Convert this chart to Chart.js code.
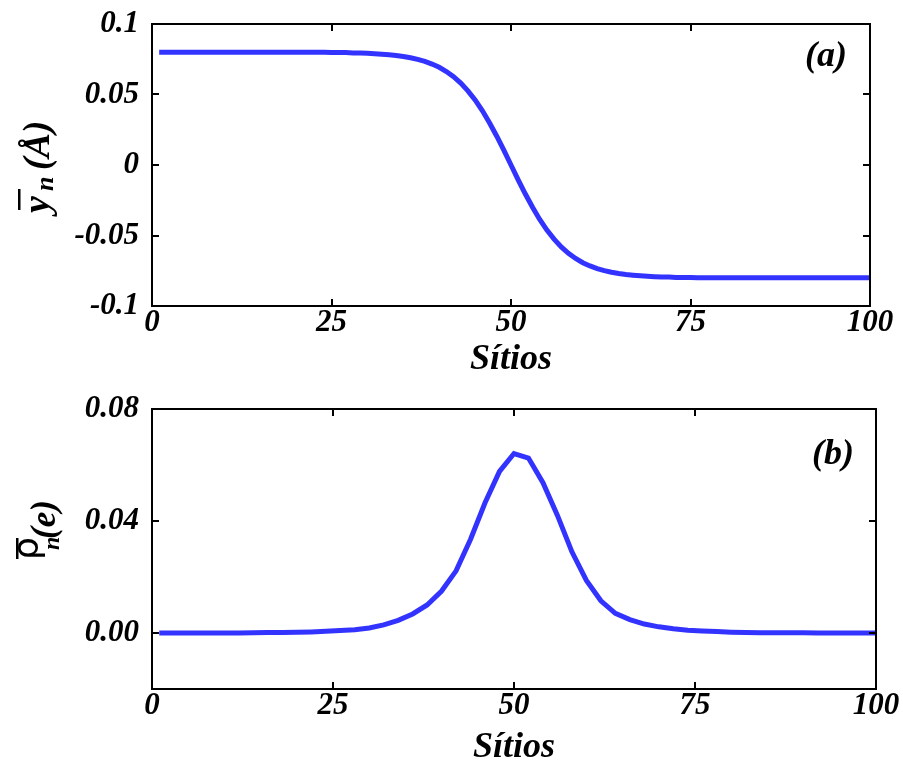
<!DOCTYPE html>
<html>
<head>
<meta charset="utf-8">
<script src="https://cdn.jsdelivr.net/npm/chart.js@4/dist/chart.umd.min.js"></script>
<style>
  html, body { margin: 0; padding: 0; background: #fff; overflow: hidden; width: 903px; height: 760px; }
  .panel { position: absolute; left: 0; width: 903px; }
  #wrapA { top: 0; height: 385px; }
  #wrapB { top: 385px; height: 380px; }
</style>
</head>
<body>
<div class="panel" id="wrapA"><canvas id="chartA"></canvas></div>
<div class="panel" id="wrapB"><canvas id="chartB"></canvas></div>
<script>
// Panel (a): mean displacement per site
const sitesA = [
  1, 2, 3, 4, 5, 6, 7, 8, 9, 10, 11, 12, 13, 14, 15, 16, 17, 18, 19, 20,
  21, 22, 23, 24, 25, 26, 27, 28, 29, 30, 31, 32, 33, 34, 35, 36, 37, 38, 39, 40,
  41, 42, 43, 44, 45, 46, 47, 48, 49, 50, 51, 52, 53, 54, 55, 56, 57, 58, 59, 60,
  61, 62, 63, 64, 65, 66, 67, 68, 69, 70, 71, 72, 73, 74, 75, 76, 77, 78, 79, 80,
  81, 82, 83, 84, 85, 86, 87, 88, 89, 90, 91, 92, 93, 94, 95, 96, 97, 98, 99, 100
];
const displacementA = [
  0.0800, 0.0800, 0.0800, 0.0800, 0.0800, 0.0800, 0.0800, 0.0800, 0.0800, 0.0800,
  0.0800, 0.0800, 0.0800, 0.0800, 0.0800, 0.0800, 0.0800, 0.0799, 0.0799, 0.0799,
  0.0799, 0.0799, 0.0799, 0.0799, 0.0798, 0.0798, 0.0797, 0.0795, 0.0794, 0.0792,
  0.0789, 0.0786, 0.0782, 0.0777, 0.0770, 0.0761, 0.0749, 0.0735, 0.0716, 0.0693,
  0.0663, 0.0626, 0.0581, 0.0526, 0.0462, 0.0386, 0.0300, 0.0206, 0.0105, 0.0000,
  -0.0105, -0.0206, -0.0300, -0.0386, -0.0462, -0.0526, -0.0581, -0.0626, -0.0663, -0.0693,
  -0.0716, -0.0735, -0.0749, -0.0761, -0.0770, -0.0777, -0.0782, -0.0786, -0.0789, -0.0792,
  -0.0794, -0.0795, -0.0797, -0.0798, -0.0798, -0.0799, -0.0799, -0.0799, -0.0799, -0.0799,
  -0.0799, -0.0799, -0.0800, -0.0800, -0.0800, -0.0800, -0.0800, -0.0800, -0.0800, -0.0800,
  -0.0800, -0.0800, -0.0800, -0.0800, -0.0800, -0.0800, -0.0800, -0.0800, -0.0800, -0.0800
];

// Panel (b): mean charge density per site
const sitesB = [
  1, 2, 4, 6, 8, 10, 12, 14, 16, 18, 20, 22, 24, 26, 28, 30, 32, 34, 36, 38, 40,
  42, 44, 46, 48, 50, 52, 54, 56, 58, 60, 62, 64, 66, 68, 70, 72, 74, 76, 78, 80,
  82, 84, 86, 88, 90, 92, 94, 96, 98, 100
];
const densityB = [
  0.0000, 0.0000, 0.0000, 0.0000, 0.0000, 0.0000, 0.0000, 0.0001, 0.0002, 0.0002, 0.0003,
  0.0004, 0.0006, 0.0009, 0.0012, 0.0018, 0.0029, 0.0045, 0.0068, 0.0100, 0.0150,
  0.0222, 0.0335, 0.0465, 0.0577, 0.0641, 0.0625, 0.0537, 0.0420, 0.0290, 0.0188,
  0.0115, 0.0070, 0.0048, 0.0032, 0.0022, 0.0015, 0.0010, 0.0007, 0.0005, 0.0003,
  0.0002, 0.0001, 0.0001, 0.0001, 0.0001, 0.0000, 0.0000, 0.0000, 0.0000, 0.0000
];

// Tick values and their printed labels
const xTickValues = [0, 25, 50, 75, 100];
const xTickLabels = ['0', '25', '50', '75', '100'];
const yTickValuesA = [-0.1, -0.05, 0, 0.05, 0.1];
const yTickLabelsA = ['-0.1', '-0.05', '0', '0.05', '0.1'];
const yTickValuesB = [0, 0.04, 0.08];
const yTickLabelsB = ['0.00', '0.04', '0.08'];

const xTitle = 'Sítios';
const LINE_COLOR = 'rgb(51, 51, 255)';
const SERIF = '"Liberation Serif", "Times New Roman", serif';
const xTickFont = { family: SERIF, style: 'italic', weight: 'bold', size: 31 };
// small lineHeight keeps the y labels from pushing the plot area down
const yTickFont = { family: SERIF, style: 'italic', weight: 'bold', size: 31, lineHeight: 0.5 };

// Boxed frame with inward ticks on all four sides, panel tag and rotated y title
const framePlugin = {
  id: 'frame',
  afterDraw(chart, args, opts) {
    const { ctx, chartArea: a, scales: { x, y } } = chart;
    ctx.save();
    ctx.strokeStyle = '#000';
    ctx.lineWidth = 2;
    ctx.strokeRect(a.left, a.top, a.right - a.left, a.bottom - a.top);
    const len = 7;
    ctx.beginPath();
    x.ticks.forEach(t => {
      const px = Math.round(x.getPixelForValue(t.value));
      ctx.moveTo(px, a.bottom); ctx.lineTo(px, a.bottom - len);
      ctx.moveTo(px, a.top); ctx.lineTo(px, a.top + len);
    });
    y.ticks.forEach(t => {
      const py = Math.round(y.getPixelForValue(t.value));
      ctx.moveTo(a.left, py); ctx.lineTo(a.left + len, py);
      ctx.moveTo(a.right, py); ctx.lineTo(a.right - len, py);
    });
    ctx.stroke();

    // panel tag
    ctx.fillStyle = '#000';
    ctx.font = `italic bold 36px ${SERIF}`;
    ctx.textAlign = 'center';
    ctx.textBaseline = 'middle';
    ctx.fillText(opts.tag, a.right + opts.tagDx, a.top + opts.tagDy);

    // rotated y-axis title made of pieces (overline, subscript)
    ctx.translate(opts.titleX, opts.titleY);
    ctx.rotate(-Math.PI / 2);
    ctx.textAlign = 'left';
    ctx.textBaseline = 'alphabetic';
    opts.titleParts.forEach(p => {
      ctx.font = p.font;
      ctx.fillText(p.text, p.s, p.dy);
      if (p.bar) {
        ctx.fillRect(p.s + p.bar[0], p.bar[2], p.bar[1] - p.bar[0], 2.5);
      }
    });
    ctx.restore();
  }
};

function makeChart(id, cfg) {
  return new Chart(document.getElementById(id), {
    type: 'line',
    data: {
      datasets: [{
        data: cfg.sites.map((s, i) => ({ x: s, y: cfg.values[i] })),
        borderColor: LINE_COLOR,
        borderWidth: 5,
        pointRadius: 0,
        fill: false,
        tension: 0,
        borderJoinStyle: 'miter',
        borderCapStyle: 'butt'
      }]
    },
    options: {
      responsive: true,
      maintainAspectRatio: false,
      animation: false,
      devicePixelRatio: 1,
      layout: { padding: { top: cfg.padTop, right: cfg.padRight, left: 0, bottom: 0 } },
      plugins: {
        legend: { display: false },
        tooltip: { enabled: false },
        frame: cfg.frame
      },
      scales: {
        x: {
          type: 'linear',
          min: 0,
          max: 100,
          afterBuildTicks: s => { s.ticks = xTickValues.map(v => ({ value: v })); },
          afterFit: s => { s.height = cfg.xHeight; },
          grid: { display: false, drawTicks: false },
          border: { display: false },
          ticks: {
            font: xTickFont, color: '#000', padding: -2, maxRotation: 0, autoSkip: false,
            callback: (v, i) => xTickLabels[i]
          },
          title: {
            display: true, text: xTitle, color: '#000',
            font: { family: SERIF, style: 'italic', weight: 'bold', size: 36, lineHeight: 1 },
            padding: { top: 0, bottom: cfg.titlePad }
          }
        },
        y: {
          type: 'linear',
          min: cfg.yMin,
          max: cfg.yMax,
          afterBuildTicks: s => { s.ticks = cfg.yTicks.map(v => ({ value: v })); },
          afterFit: s => { s.width = 152; },
          grid: { display: false, drawTicks: false },
          border: { display: false },
          ticks: {
            font: yTickFont, color: '#000', padding: 13, autoSkip: false,
            callback: (v, i) => cfg.yLabels[i]
          }
        }
      }
    },
    plugins: [framePlugin]
  });
}

const boldIt = size => `italic bold ${size}px ${SERIF}`;

makeChart('chartA', {
  sites: sitesA, values: displacementA,
  yMin: -0.1, yMax: 0.1, yTicks: yTickValuesA, yLabels: yTickLabelsA,
  padTop: 24, padRight: 33, xHeight: 79, titlePad: 7,
  frame: {
    tag: '(a)', tagDx: -44, tagDy: 33,
    titleX: 49, titleY: 213,
    titleParts: [
      { text: 'y', font: boldIt(38), s: 0, dy: 0, bar: [3, 24, -31] },
      { text: 'n', font: boldIt(26), s: 22, dy: 4 },
      { text: '(Å)', font: boldIt(37), s: 43, dy: 0 }
    ]
  }
});

makeChart('chartB', {
  sites: sitesB, values: densityB,
  yMin: -0.02, yMax: 0.08, yTicks: yTickValuesB, yLabels: yTickLabelsB,
  padTop: 24, padRight: 27, xHeight: 76, titlePad: -1,
  frame: {
    tag: '(b)', tagDx: -43, tagDy: 46,
    titleX: 55, titleY: 175,
    titleParts: [
      { text: 'ρ', font: '36px "DejaVu Sans", sans-serif', s: 0, dy: -17, bar: [1, 22, -39] },
      { text: 'n', font: boldIt(24), s: 10, dy: 4 },
      { text: '(e)', font: boldIt(35), s: 21, dy: 0 }
    ]
  }
});
</script>
</body>
</html>
